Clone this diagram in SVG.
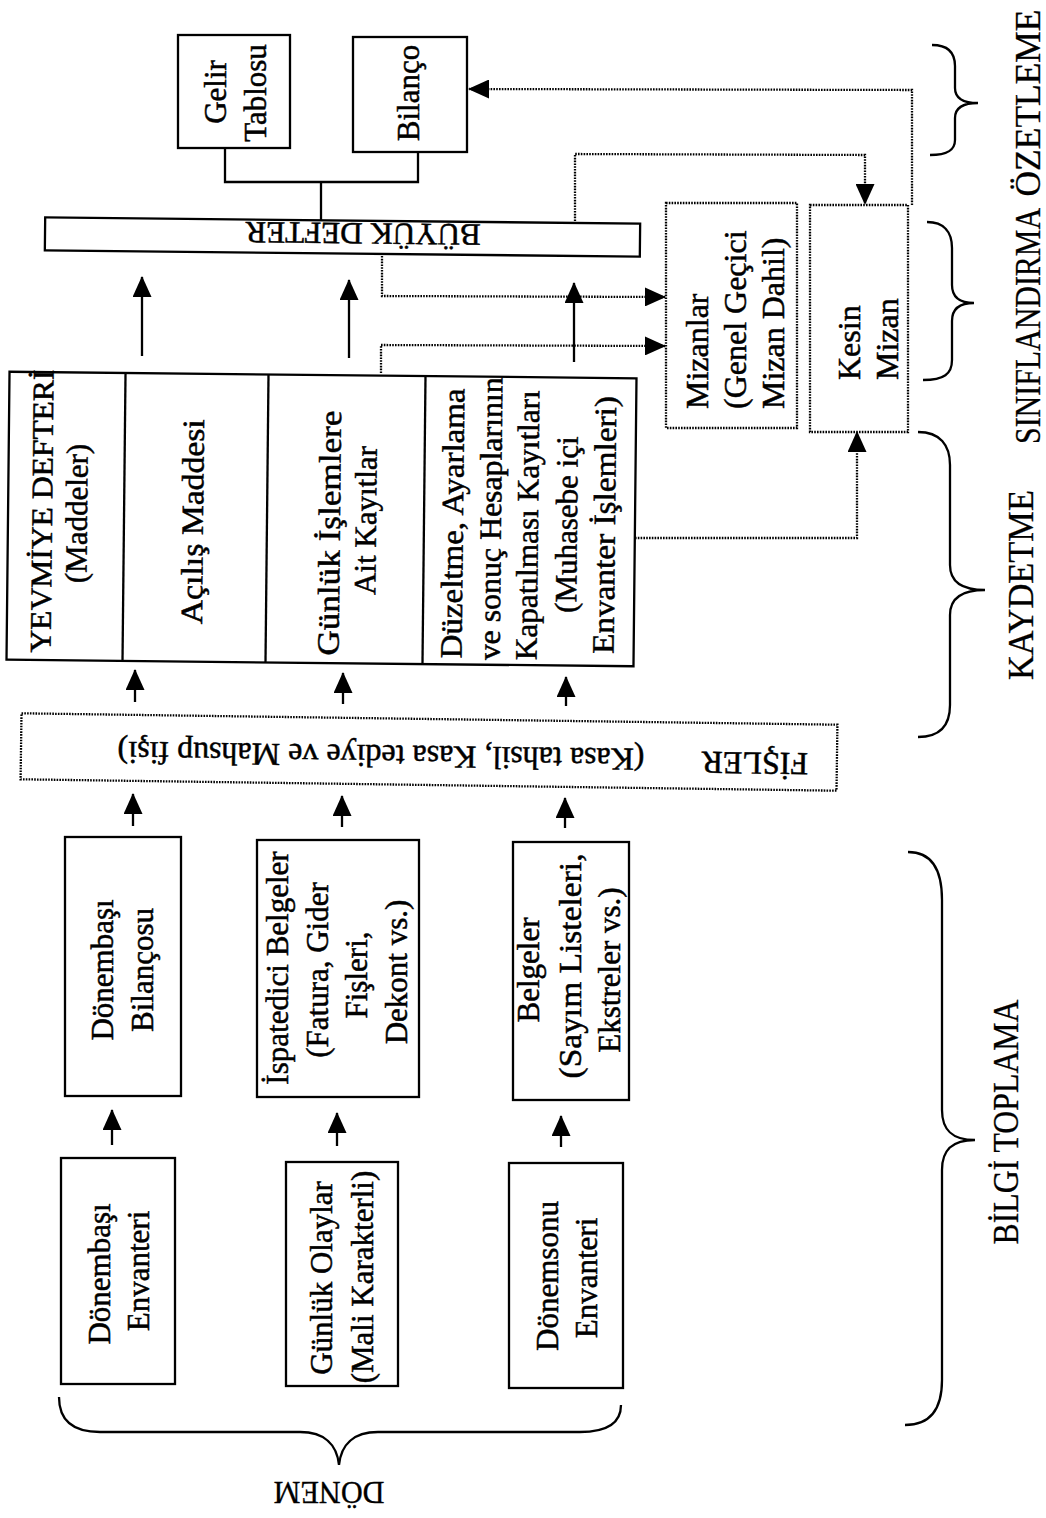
<svg xmlns="http://www.w3.org/2000/svg" width="1046" height="1518" viewBox="0 0 1046 1518">
<defs>
<style>
.bx{fill:none;stroke:#000;stroke-width:2.3}
.db{fill:none;stroke:#000;stroke-width:2.3;stroke-dasharray:1.6 1.2}
.ln{fill:none;stroke:#000;stroke-width:2.3}
.dl{fill:none;stroke:#000;stroke-width:2.3;stroke-dasharray:1.6 1.2}
.br{fill:none;stroke:#000;stroke-width:2.3}
.t{font-family:"Liberation Serif","Times New Roman",serif;font-size:31px;fill:#000;stroke:#000;stroke-width:0.5px;text-anchor:middle}
.m{font-size:32px}
.lab{font-family:"Liberation Serif","Times New Roman",serif;font-size:36px;fill:#000;stroke:#000;stroke-width:0.3px;text-anchor:middle}
</style>
<marker id="ah" markerUnits="userSpaceOnUse" markerWidth="21" markerHeight="19" viewBox="0 0 21 19" refX="20" refY="9.5" orient="auto"><path d="M0,0 L21,9.5 L0,19 z" fill="#000"/></marker>
</defs>
<rect width="1046" height="1518" fill="#fff"/>

<g id="gelir-tablosu">
<rect class="bx" x="178" y="35" width="112" height="113"/>
<text class="t" transform="translate(226,92) rotate(-90)">Gelir</text>
<text class="t" transform="translate(266,93) rotate(-90)">Tablosu</text>
</g>

<g id="bilanco">
<rect class="bx" x="353" y="37" width="114" height="115"/>
<text class="t" transform="translate(419,93) rotate(-90)">Bilanço</text>
</g>

<g id="buyuk-defter" transform="rotate(0.6 342 237)">
<rect class="bx" x="45" y="220.5" width="595" height="33"/>
<text class="t" transform="translate(363,223) rotate(180)">BÜYÜK DEFTER</text>
</g>

<g id="mizanlar">
<rect class="db" x="666" y="203" width="131" height="225"/>
<text class="t m" style="text-anchor:start" transform="translate(708,409) rotate(-90)">Mizanlar</text>
<text class="t m" style="text-anchor:start" transform="translate(746,409) rotate(-90)">(Genel Geçici</text>
<text class="t m" style="text-anchor:start" transform="translate(784,409) rotate(-90)">Mizan Dahil)</text>
</g>

<g id="kesin-mizan">
<rect class="db" x="810" y="205" width="98" height="227"/>
<text class="t m" style="text-anchor:start" transform="translate(860,380) rotate(-90)">Kesin</text>
<text class="t m" style="text-anchor:start" transform="translate(898,380) rotate(-90)">Mizan</text>
</g>

<g id="yevmiye-defteri" transform="rotate(0.6 322 519)">
<rect class="bx" x="8" y="375" width="627" height="288"/>
<line class="ln" x1="124" y1="375" x2="124" y2="663"/>
<line class="ln" x1="267" y1="375" x2="267" y2="663"/>
<line class="ln" x1="424" y1="375" x2="424" y2="663"/>
<text class="t" style="font-size:30px" textLength="283" lengthAdjust="spacingAndGlyphs" transform="translate(52,514) rotate(-90)">YEVMİYE DEFTERİ</text>
<text class="t" transform="translate(87,516) rotate(-90)">(Maddeler)</text>
<text class="t" textLength="205" lengthAdjust="spacingAndGlyphs" transform="translate(203,523) rotate(-90)">Açılış Maddesi</text>
<text class="t" textLength="245" lengthAdjust="spacingAndGlyphs" transform="translate(340,533) rotate(-90)">Günlük İşlemlere</text>
<text class="t" transform="translate(376,520) rotate(-90)">Ait Kayıtlar</text>
<text class="t" textLength="270" lengthAdjust="spacingAndGlyphs" transform="translate(463,522) rotate(-90)">Düzeltme, Ayarlama</text>
<text class="t" textLength="283" lengthAdjust="spacingAndGlyphs" transform="translate(501,517) rotate(-90)">ve sonuç Hesaplarının</text>
<text class="t" textLength="270" lengthAdjust="spacingAndGlyphs" transform="translate(538,523) rotate(-90)">Kapatılması Kayıtları</text>
<text class="t" transform="translate(577,522) rotate(-90)">(Muhasebe içi</text>
<text class="t" textLength="258" lengthAdjust="spacingAndGlyphs" transform="translate(615,522) rotate(-90)">Envanter İşlemleri)</text>
</g>

<g id="fisler" transform="rotate(0.8 429 752)">
<rect class="db" x="21" y="719" width="816" height="66"/>
<text class="t m" transform="translate(381,746) rotate(180)">(Kasa tahsil, Kasa tediye ve Mahsup fişi)</text>
<text class="t m" transform="translate(755,748) rotate(180)">FİŞLER</text>
</g>

<g id="donembasi-bilancosu">
<rect class="bx" x="65" y="837" width="116" height="259"/>
<text class="t" transform="translate(113,970) rotate(-90)">Dönembaşı</text>
<text class="t" transform="translate(153,970) rotate(-90)">Bilançosu</text>
</g>

<g id="ispatedici-belgeler">
<rect class="bx" x="257" y="840" width="162" height="257"/>
<text class="t" transform="translate(288,968) rotate(-90)">İspatedici Belgeler</text>
<text class="t" transform="translate(328,970) rotate(-90)">(Fatura, Gider</text>
<text class="t" transform="translate(367,975) rotate(-90)">Fişleri,</text>
<text class="t" transform="translate(407,972) rotate(-90)">Dekont vs.)</text>
</g>

<g id="belgeler">
<rect class="bx" x="513" y="842" width="116" height="258"/>
<text class="t" transform="translate(539,970) rotate(-90)">Belgeler</text>
<text class="t" textLength="225" lengthAdjust="spacingAndGlyphs" transform="translate(581,966) rotate(-90)">(Sayım Listeleri,</text>
<text class="t" transform="translate(620,970) rotate(-90)">Ekstreler vs.)</text>
</g>

<g id="donembasi-envanteri">
<rect class="bx" x="61" y="1158" width="114" height="226"/>
<text class="t" transform="translate(110,1274) rotate(-90)">Dönembaşı</text>
<text class="t" transform="translate(149,1271) rotate(-90)">Envanteri</text>
</g>

<g id="gunluk-olaylar">
<rect class="bx" x="286" y="1162" width="112" height="224"/>
<text class="t" transform="translate(332,1278) rotate(-90)">Günlük Olaylar</text>
<text class="t" transform="translate(373,1277) rotate(-90)">(Mali Karakterli)</text>
</g>

<g id="donemsonu-envanteri">
<rect class="bx" x="509" y="1163" width="114" height="225"/>
<text class="t" transform="translate(558,1276) rotate(-90)">Dönemsonu</text>
<text class="t" transform="translate(597,1278) rotate(-90)">Envanteri</text>
</g>

<g id="connectors">
<polyline class="ln" points="225,148 225,182 418,182 418,152"/>
<line class="ln" x1="321" y1="182" x2="321" y2="221"/>
<line class="ln" x1="112" y1="1145" x2="112" y2="1110" marker-end="url(#ah)"/>
<line class="ln" x1="337" y1="1146" x2="337" y2="1113" marker-end="url(#ah)"/>
<line class="ln" x1="561" y1="1147" x2="561" y2="1116" marker-end="url(#ah)"/>
<line class="ln" x1="133" y1="826" x2="133" y2="794" marker-end="url(#ah)"/>
<line class="ln" x1="342" y1="827" x2="342" y2="796" marker-end="url(#ah)"/>
<line class="ln" x1="565" y1="828" x2="565" y2="798" marker-end="url(#ah)"/>
<line class="ln" x1="135" y1="702" x2="135" y2="670" marker-end="url(#ah)"/>
<line class="ln" x1="343" y1="704" x2="343" y2="673" marker-end="url(#ah)"/>
<line class="ln" x1="566" y1="706" x2="566" y2="677" marker-end="url(#ah)"/>
<line class="ln" x1="142" y1="356" x2="142" y2="277" marker-end="url(#ah)"/>
<line class="ln" x1="349" y1="358" x2="349" y2="280" marker-end="url(#ah)"/>
<line class="ln" x1="574" y1="362" x2="574" y2="283" marker-end="url(#ah)"/>
<polyline class="dl" points="912,205 912,90 469,89" marker-end="url(#ah)"/>
<polyline class="dl" points="575,221 575,154 865,155 865,204" marker-end="url(#ah)"/>
<polyline class="dl" points="382,256 382,296 665,297" marker-end="url(#ah)"/>
<polyline class="dl" points="381,373 381,345 665,346" marker-end="url(#ah)"/>
<polyline class="dl" points="635,538 857,538 857,432" marker-end="url(#ah)"/>
</g>

<g id="ozetleme">
<path class="br" d="M932,45 C948,45 955,52 955,66 L955,88 C955,98 962,103 978,103 C962,103 955,108 955,118 L955,140 C955,150 948,155 930,155"/>
<text class="lab" textLength="187" lengthAdjust="spacingAndGlyphs" transform="translate(1040,103) rotate(-90)">ÖZETLEME</text>
</g>
<g id="siniflandirma">
<path class="br" d="M927,222 C944,222 952,232 952,248 L952,285 C952,297 960,303 974,303 C960,303 952,309 952,321 L952,360 C952,374 944,380 923,380"/>
<text class="lab" textLength="236" lengthAdjust="spacingAndGlyphs" transform="translate(1040,326) rotate(-90)">SINIFLANDIRMA</text>
</g>
<g id="kaydetme">
<path class="br" d="M918,432 C940,432 950,445 950,465 L950,565 C950,582 962,590 985,590 C962,590 950,598 950,615 L950,705 C950,725 940,737 918,737"/>
<text class="lab" textLength="190" lengthAdjust="spacingAndGlyphs" transform="translate(1033,585) rotate(-90)">KAYDETME</text>
</g>
<g id="bilgi-toplama">
<path class="br" d="M908,852 C932,852 942,870 942,900 L942,1110 C942,1130 952,1140 975,1140 C952,1140 942,1150 942,1170 L942,1380 C942,1410 930,1425 905,1425"/>
<text class="lab" textLength="245" lengthAdjust="spacingAndGlyphs" transform="translate(1018,1122) rotate(-90)">BİLGİ TOPLAMA</text>
</g>
<g id="donem">
<path class="br" d="M59,1397 C59,1420 72,1432 100,1432 L300,1432 C325,1432 337,1445 339,1465 C341,1445 353,1432 378,1432 L580,1432 C608,1432 621,1422 621,1405"/>
<text class="lab" style="font-size:32px" textLength="111" lengthAdjust="spacingAndGlyphs" transform="translate(329,1482) rotate(180)">DÖNEM</text>
</g>
</svg>
